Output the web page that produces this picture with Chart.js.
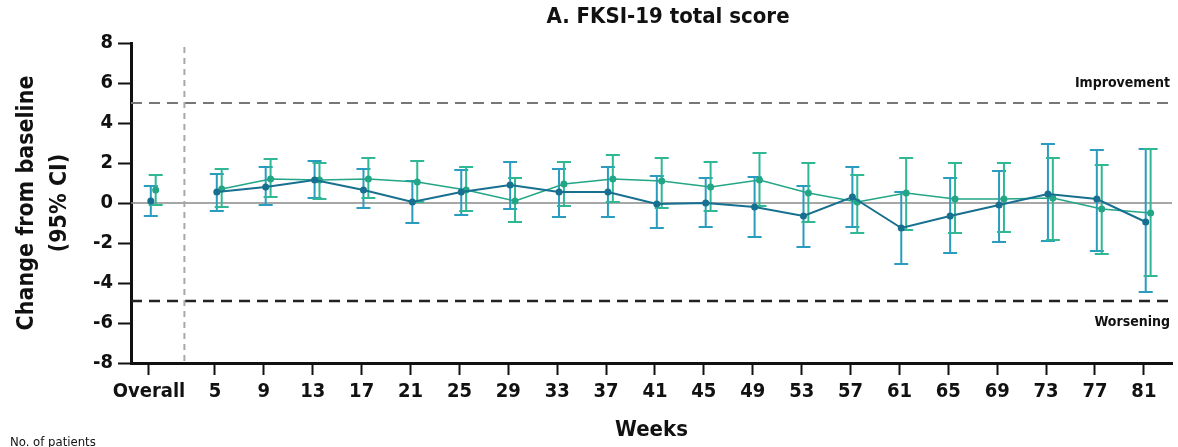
<!DOCTYPE html>
<html>
<head>
<meta charset="utf-8">
<script src="https://cdn.jsdelivr.net/npm/chart.js@4"></script>
<style>
  html, body { margin: 0; padding: 0; background: #fff; }
  #wrap { width: 1178px; height: 447px; }
</style>
</head>
<body>
<div id="wrap"><canvas id="fksiChart" width="1178" height="447"></canvas></div>
<script>
// weeks on study and x positions
var weeks = [5, 9, 13, 17, 21, 25, 29, 33, 37, 41, 45, 49, 53, 57, 61, 65, 69, 73, 77, 81];
var overallX = -0.4;
var dividerX = 2.5;
var xTickValues = [overallX].concat(weeks);
var xTickLabels = ["Overall"].concat(weeks.map(String));
var yTickValues = [-8, -6, -4, -2, 0, 2, 4, 6, 8];

// series 1 (dark teal) - mean change and 95% CI
var darkMean = [0.55, 0.8, 1.15, 0.65, 0.05, 0.55, 0.9, 0.55, 0.55, -0.05, 0.0, -0.2, -0.65, 0.3, -1.25, -0.65, -0.1, 0.45, 0.2, -0.95];
var darkLow = [-0.4, -0.1, 0.25, -0.25, -1.0, -0.6, -0.3, -0.7, -0.7, -1.25, -1.2, -1.7, -2.2, -1.2, -3.05, -2.5, -1.95, -1.9, -2.4, -4.45];
var darkHigh = [1.45, 1.8, 2.1, 1.7, 1.1, 1.65, 2.05, 1.7, 1.8, 1.35, 1.25, 1.3, 0.85, 1.8, 0.55, 1.25, 1.6, 2.95, 2.65, 2.7];
var darkOverall = [0.1, -0.65, 0.85]; // mean, low, high

// series 2 (green) - mean change and 95% CI
var greenMean = [0.7, 1.2, 1.15, 1.2, 1.05, 0.65, 0.1, 0.95, 1.2, 1.1, 0.8, 1.15, 0.5, 0.05, 0.5, 0.2, 0.2, 0.25, -0.3, -0.5];
var greenLow = [-0.2, 0.3, 0.2, 0.25, 0.05, -0.4, -0.95, -0.15, 0.05, -0.25, -0.4, -0.15, -0.95, -1.5, -1.35, -1.5, -1.45, -1.85, -2.55, -3.65];
var greenHigh = [1.7, 2.2, 2.0, 2.25, 2.1, 1.8, 1.25, 2.05, 2.4, 2.25, 2.05, 2.5, 2.0, 1.4, 2.25, 2.0, 2.0, 2.25, 1.9, 2.7];
var greenOverall = [0.65, -0.1, 1.4];

// thresholds
var improvementLine = 5;
var worseningLine = -4.9;

var darkOffset = 0.15;
var greenOffset = 0.55;

var FONT = "'DejaVu Sans Condensed', 'DejaVu Sans', sans-serif";
var darkColor = "#17708f";
var darkBar = "#2a9cc0";
var greenColor = "#22a686";
var greenBar = "#2fb893";

function pts(xs, ys, off) {
    return xs.map(function (w, i) { return { x: w + off, y: ys[i] }; });
}

var errorBars = [
    { off: darkOffset, xs: weeks, lo: darkLow, hi: darkHigh, color: darkBar },
    { off: darkOffset, xs: [overallX], lo: [darkOverall[1]], hi: [darkOverall[2]], color: darkBar },
    { off: greenOffset, xs: weeks, lo: greenLow, hi: greenHigh, color: greenBar },
    { off: greenOffset, xs: [overallX], lo: [greenOverall[1]], hi: [greenOverall[2]], color: greenBar },
];

var refLines = {
    id: "refLines",
    beforeDatasetsDraw: function (chart) {
        var c = chart.ctx, a = chart.chartArea;
        var xs = chart.scales.x, ys = chart.scales.y;
        c.save();
        // zero line
        c.strokeStyle = "#8a8a8a";
        c.lineWidth = 1.5;
        c.beginPath();
        c.moveTo(a.left, ys.getPixelForValue(0));
        c.lineTo(a.right, ys.getPixelForValue(0));
        c.stroke();
        // improvement
        c.setLineDash([11, 7]);
        c.strokeStyle = "#777";
        c.lineWidth = 2;
        c.beginPath();
        c.moveTo(a.left, ys.getPixelForValue(improvementLine));
        c.lineTo(a.right, ys.getPixelForValue(improvementLine));
        c.stroke();
        // worsening
        c.strokeStyle = "#222";
        c.lineWidth = 2.5;
        c.beginPath();
        c.moveTo(a.left, ys.getPixelForValue(worseningLine));
        c.lineTo(a.right, ys.getPixelForValue(worseningLine));
        c.stroke();
        // divider between overall and weeks
        c.setLineDash([6, 5]);
        c.strokeStyle = "#a8a8a8";
        c.lineWidth = 2;
        c.beginPath();
        c.moveTo(xs.getPixelForValue(dividerX), ys.getPixelForValue(7.8));
        c.lineTo(xs.getPixelForValue(dividerX), a.bottom);
        c.stroke();
        c.setLineDash([]);

        // error bars
        errorBars.forEach(function (s) {
            c.strokeStyle = s.color;
            c.lineWidth = 2;
            s.xs.forEach(function (w, i) {
                var px = xs.getPixelForValue(w + s.off);
                var pLo = ys.getPixelForValue(s.lo[i]);
                var pHi = ys.getPixelForValue(s.hi[i]);
                c.beginPath();
                c.moveTo(px, pLo); c.lineTo(px, pHi);
                c.moveTo(px - 7, pLo); c.lineTo(px + 7, pLo);
                c.moveTo(px - 7, pHi); c.lineTo(px + 7, pHi);
                c.stroke();
            });
        });

        // labels
        c.fillStyle = "#111";
        c.font = "bold 14px " + FONT;
        c.textAlign = "right";
        c.textBaseline = "middle";
        c.fillText("Improvement", a.right - 2, ys.getPixelForValue(improvementLine) - 20);
        c.fillText("Worsening", a.right - 2, ys.getPixelForValue(worseningLine) + 21);
        c.textAlign = "left";
        c.textBaseline = "top";
        c.font = "13px " + FONT;
        c.fillText("No. of patients", 10, 436);
        // chart title
        c.textAlign = "center";
        c.textBaseline = "middle";
        c.font = "bold 22px " + FONT;
        c.fillText("A. FKSI-19 total score", 668, 17);
        c.restore();
    }
};

var ctx = document.getElementById("fksiChart").getContext("2d");
var myChart = new Chart(ctx, {
    type: "line",
    data: {
        datasets: [
            {
                label: "Series 1",
                data: pts(weeks, darkMean, darkOffset),
                borderColor: darkColor,
                backgroundColor: darkColor,
                borderWidth: 2,
                pointRadius: 3.5,
                pointBorderWidth: 0,
                tension: 0,
            },
            {
                label: "Series 2",
                data: pts(weeks, greenMean, greenOffset),
                borderColor: greenColor,
                backgroundColor: greenColor,
                borderWidth: 1.5,
                pointRadius: 3.5,
                pointBorderWidth: 0,
                tension: 0,
            },
            {
                label: "Series 1 overall",
                data: [{ x: overallX + darkOffset, y: darkOverall[0] }],
                showLine: false,
                backgroundColor: darkColor,
                borderColor: darkColor,
                pointRadius: 3.5,
                pointBorderWidth: 0,
            },
            {
                label: "Series 2 overall",
                data: [{ x: overallX + greenOffset, y: greenOverall[0] }],
                showLine: false,
                backgroundColor: greenColor,
                borderColor: greenColor,
                pointRadius: 3.5,
                pointBorderWidth: 0,
            },
        ],
    },
    options: {
        responsive: false,
        animation: false,
        layout: { padding: { left: 0, right: 6, top: 43, bottom: 0 } },
        plugins: {
            legend: { display: false },
            tooltip: { enabled: false },
            title: { display: false },
        },
        scales: {
            x: {
                type: "linear",
                min: -1.87,
                max: 83.3,
                afterBuildTicks: function (scale) {
                    scale.ticks = xTickValues.map(function (v) { return { value: v }; });
                },
                afterFit: function (scale) { scale.height = 84; },
                ticks: {
                    autoSkip: false,
                    maxRotation: 0,
                    padding: 5,
                    color: "#111",
                    font: { family: FONT, size: 20, weight: "bold" },
                    callback: function (v, i) { return xTickLabels[i]; },
                },
                grid: {
                    display: true,
                    drawOnChartArea: false,
                    drawTicks: true,
                    tickLength: 12,
                    tickColor: "#111",
                    tickWidth: 2,
                },
                border: { display: true, color: "#111", width: 3 },
                title: {
                    display: true,
                    text: "Weeks",
                    color: "#111",
                    font: { family: FONT, size: 22, weight: "bold", lineHeight: 1.2 },
                    padding: { top: 0, bottom: 4 },
                },
            },
            y: {
                min: -8,
                max: 8,
                afterBuildTicks: function (scale) {
                    scale.ticks = yTickValues.map(function (v) { return { value: v }; });
                },
                afterFit: function (scale) { scale.width = 131; },
                ticks: {
                    padding: 5,
                    color: "#111",
                    font: { family: FONT, size: 20, weight: "bold" },
                },
                grid: {
                    display: true,
                    drawOnChartArea: false,
                    drawTicks: true,
                    tickLength: 13,
                    tickColor: "#111",
                    tickWidth: 2,
                },
                border: { display: true, color: "#111", width: 3 },
                title: {
                    display: true,
                    text: ["Change from baseline", "(95% CI)"],
                    color: "#111",
                    font: { family: FONT, size: 23, weight: "bold", lineHeight: 1.45 },
                    padding: { top: 10, bottom: 0 },
                },
            },
        },
    },
    plugins: [refLines],
});
</script>
</body>
</html>
